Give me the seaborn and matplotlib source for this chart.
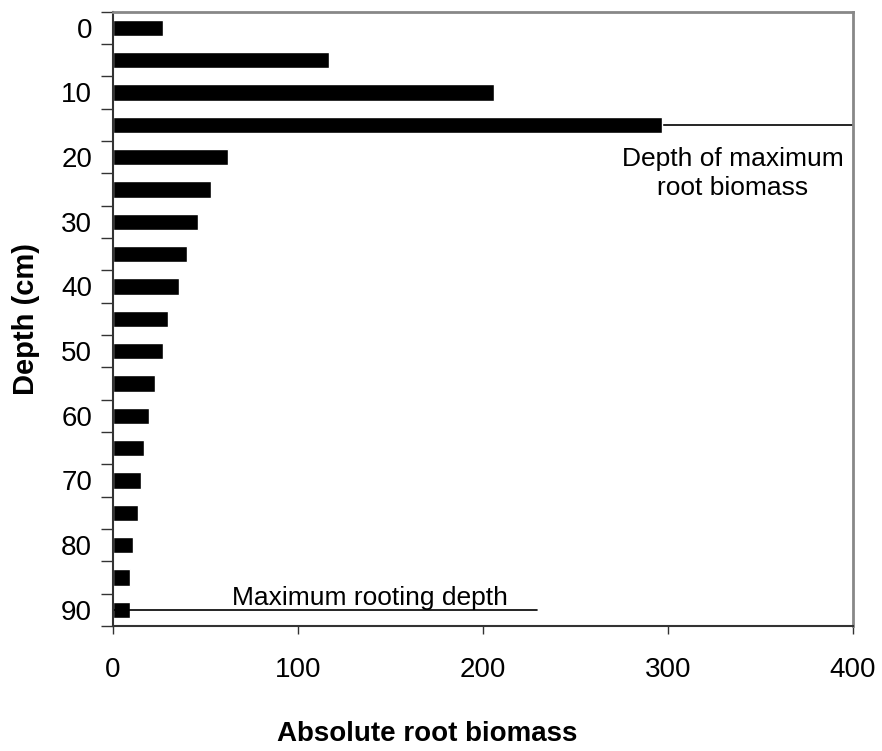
import numpy as np
import pandas as pd
import matplotlib
matplotlib.use("Agg")
import matplotlib.pyplot as plt
import seaborn as sns

depths = [0, 5, 10, 15, 20, 25, 30, 35, 40, 45, 50, 55, 60, 65, 70, 75, 80, 85, 90]
biomass = [27, 117, 206, 297, 62, 53, 46, 40, 36, 30, 27, 23, 19.5, 17, 15, 13.5, 11, 9, 9]
x_ticks = [0, 100, 200, 300, 400]

df = pd.DataFrame({"depth": [str(d) for d in depths], "biomass": biomass})

sns.set_theme(style="white")
plt.rcParams["font.family"] = ["Liberation Sans", "DejaVu Sans"]
plt.rcParams["text.color"] = "black"
plt.rcParams["axes.labelcolor"] = "black"
plt.rcParams["xtick.labelcolor"] = "black"
plt.rcParams["ytick.labelcolor"] = "black"

fig = plt.figure(figsize=(8.82, 7.51), dpi=100)
ax = fig.add_axes([0.128, 0.1665, 0.839, 0.818])

sns.barplot(data=df, x="biomass", y="depth", orient="h", color="black",
            width=0.5, saturation=1, ax=ax)

ax.set_xlim(0, 400)
ax.set_ylim(len(depths) - 0.5, -0.5)

# labels every 10 cm, tick marks between bars
lab_pos = [i for i, d in enumerate(depths) if d % 10 == 0]
ax.set_yticks(lab_pos, [str(depths[i]) for i in lab_pos])
ax.set_yticks(np.arange(-0.5, len(depths), 1), minor=True)
ax.tick_params(axis="y", which="major", length=0, pad=15, labelsize=20,
               labelcolor="black")
ax.tick_params(axis="y", which="minor", left=True, length=9, width=1, color="#333333")
ax.set_xticks(x_ticks)
ax.tick_params(axis="x", bottom=True, length=6, width=1, color="#333333",
               pad=16, labelsize=20, labelcolor="black")

for side in ["left", "bottom"]:
    ax.spines[side].set_color("#333333")
    ax.spines[side].set_linewidth(1.5)
for side in ["top", "right"]:
    ax.spines[side].set_color("#888888")
    ax.spines[side].set_linewidth(2)

ax.set_xlabel("Absolute root biomass", fontsize=20, fontweight="bold", va="top",
              color="black")
ax.xaxis.set_label_coords(0.425, -0.155)
ax.set_ylabel("Depth (cm)", fontsize=21, fontweight="bold", va="center", color="black")
ax.yaxis.set_label_coords(-0.118, 0.5)

# annotations
max_idx = int(np.argmax(biomass))
ax.plot([0, 400], [max_idx, max_idx], color="black", lw=1.2, zorder=0)
ax.text(335, max_idx + 0.68, "Depth of maximum\nroot biomass", ha="center", va="top",
        fontsize=19, linespacing=1.3, color="black")

last = len(depths) - 1
ax.plot([0, 229], [last, last], color="black", lw=1.2)
ax.text(139, last - 0.15, "Maximum rooting depth", ha="center", va="baseline",
        fontsize=19, color="black")

fig.savefig("out.png", dpi=100)
